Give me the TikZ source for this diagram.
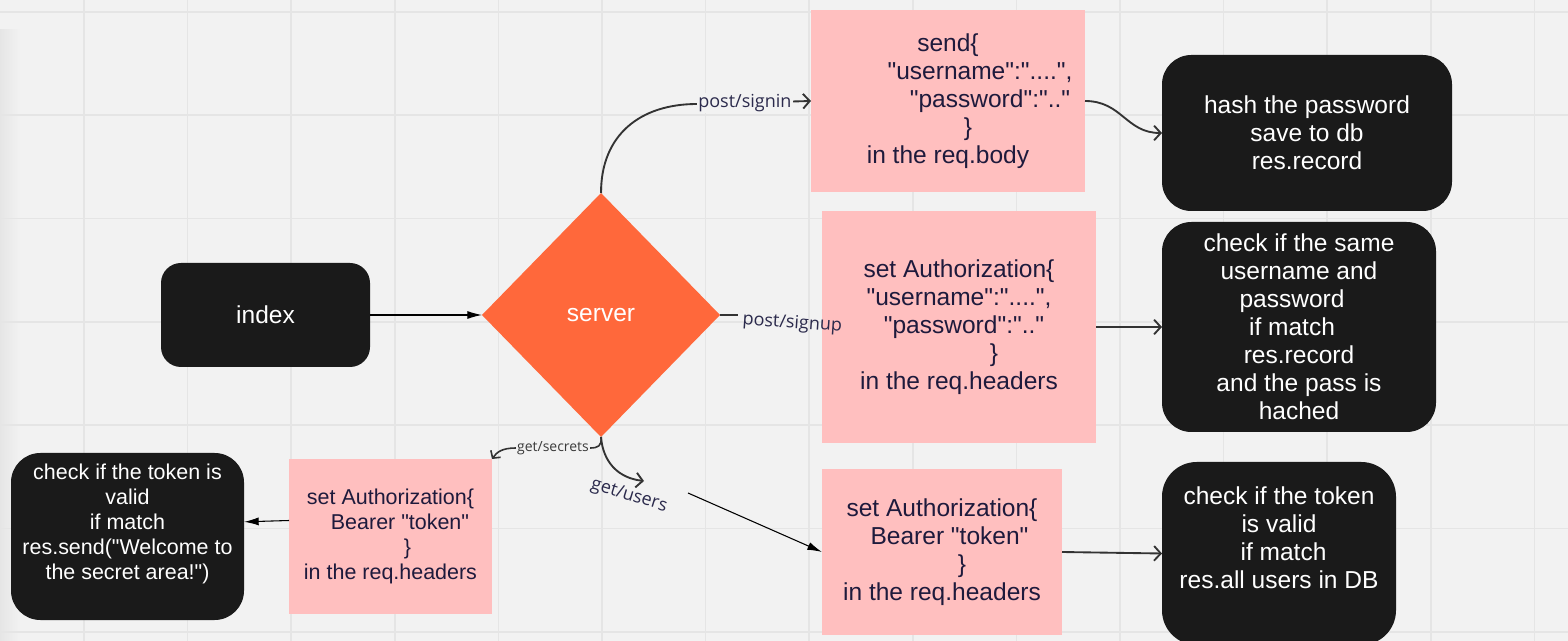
\documentclass[tikz,border=0pt]{standalone}
\usepackage{fontspec}
\setmainfont{Liberation Sans}
\newfontfamily\labfont{Open Sans}
\usetikzlibrary{shapes.geometric,arrows.meta}
\newdimen\px \px=0.75pt
\newcommand\sh[1]{\rule{#1\px}{0pt}}
\newcommand\qq{\textquotedbl}
\definecolor{bgc}{HTML}{F2F2F2}
\definecolor{gridc}{HTML}{E5E5E5}
\definecolor{pinkc}{HTML}{FFBFBF}
\definecolor{darkc}{HTML}{1A1A1A}
\definecolor{orangec}{HTML}{FF683B}
\definecolor{navyc}{HTML}{1E1A3C}
\definecolor{labc}{HTML}{2B2A4C}
\definecolor{seclabc}{HTML}{3A3A3A}
\definecolor{linec}{HTML}{333333}
\begin{document}
\begin{tikzpicture}[x=0.75pt,y=-0.75pt,
  rect/.style n args={4}{minimum width={(#3-#1)*0.75pt}, minimum height={(#4-#2)*0.75pt}, at={({(#1+#3)/2},{(#2+#4)/2})}},
  bigfont/.style={font=\fontsize{18.4}{21}\selectfont},
  smallfont/.style={font=\fontsize{16.1}{18.75}\selectfont},
  pinkbox/.style={fill=pinkc, draw=none, inner sep=0pt, outer sep=0pt, align=center, text=navyc, bigfont},
  darkbox/.style={fill=darkc, draw=none, rounded corners=22pt, inner sep=0pt, outer sep=0pt, align=center, text=white, bigfont},
  curve/.style={draw=linec, line width=1.4pt, -{Straight Barb[length=5pt,width=11pt]}},
  plainline/.style={draw=linec, line width=1.4pt},
  thinarrow/.style={draw=black, line width=0.8pt, -{Latex[length=11pt,width=6pt]}},
  siglab/.style={font=\labfont\fontsize{13.5}{16}\selectfont, text=labc, fill=bgc, inner sep=1pt},
  seclab/.style={font=\labfont\fontsize{10.5}{12}\selectfont, text=seclabc, fill=bgc, inner sep=1pt}
]
\useasboundingbox (0,0) rectangle (1568,641);
\clip (0,0) rectangle (1568,641);
% canvas
\fill[bgc] (0,0) rectangle (1568,641);
\shade[left color=black!10, right color=bgc] (0,30) rectangle (20,641);
\foreach \i in {0,...,14} \draw[gridc, line width=1.3pt] ({84+103.6*\i},0) -- ({84+103.6*\i},641);
\foreach \j in {0,...,6} \draw[gridc, line width=1.3pt] (0,{12+103.3*\j}) -- (1568,{12+103.3*\j});

% nodes
\node[darkbox, rounded corners=15pt, rect={161}{263}{370}{367}] (idx) {index};
\node[diamond, fill=orangec, minimum width=178.5pt, minimum height=183pt, inner sep=0pt, outer sep=0pt, text=white, bigfont] (srv) at (601,315) {server};

\node[pinkbox, rect={811}{10}{1085}{192}] (p1) {send\{\\\sh{64}{\qq}username{\qq}:{\qq}....{\qq},\\\sh{84}{\qq}password{\qq}:{\qq}..{\qq}\\\sh{40}\}\\in the req.body};
\node[pinkbox, rect={822}{211}{1096}{443}] (p2) {set Authorization\{\\{\qq}username{\qq}:{\qq}....{\qq},\\\sh{10}{\qq}password{\qq}:{\qq}..{\qq}\\\sh{70}\}\\in the req.headers};
\node[pinkbox, rect={822}{469}{1062}{635}] (p4) {set Authorization\{\\\sh{15}Bearer {\qq}token{\qq}\\\sh{40}\}\\in the req.headers};
\node[pinkbox, smallfont, rect={289}{459}{492}{614}] (p3) {set Authorization\{\\\sh{19}Bearer {\qq}token{\qq}\\\sh{34}\}\\in the req.headers};

\node[darkbox, rect={1162}{55}{1452}{211}] (b1) {hash the password\\save to db\\res.record};
\node[darkbox, rect={1162}{222}{1436}{432}] (b2) {check if the same\\username and\\password\sh{14}\\if match\sh{14}\\res.record\\and the pass is\\hached};
\node[darkbox, smallfont, rect={11}{453}{244}{620}] (b3) {check if the token is\\valid\\if match\\res.send({\qq}Welcome to\\the secret area!{\qq})\\[4\px]\mbox{}};
\node[darkbox, rounded corners=26pt, rect={1162}{462}{1396}{645}] (b4) {check if the token\\is valid\\\sh{9}if match\\res.all users in DB\\[4\px]\mbox{}};

% connectors
\draw[thinarrow] (idx.east) -- (srv.west);
\draw[curve] (srv.north) .. controls (601,135) and (640,104) .. (697,104) -- node[siglab, pos=0.42] (lsi) {post/signin} (p1.west);
\coordinate (su) at (738,315);
\draw[plainline] (srv.east) -- (su);
\node[siglab, fill=none, rotate=-4, anchor=west] (lsu) at (741,320) {post/signup};
\draw[curve, line width=1.2pt, -{Straight Barb[length=4pt,width=9pt]}] (srv.south) .. controls (602,446) and (598,448) .. (590,448) -- node[seclab] (lse) {get/secrets} (516,448) .. controls (502,448) and (497,452) .. (p3.north east);
\coordinate (gu) at (644,481);
\draw[curve] (srv.south) .. controls (603,462) and (618,478) .. (gu);
\node[siglab, fill=none, rotate=-17] (lgu) at (629,496) {get/users};
\coordinate (gl) at (688,493);
\draw[thinarrow] (gl) -- (p4.west);
\draw[curve] (p1.east) .. controls (1122,101) and (1126,133) .. (b1.west);
\draw[curve] (p2.east) -- (b2.west);
\draw[curve] (p4.east) -- (b4.west);
\draw[thinarrow] ([yshift=12pt]p3.west) -- ([yshift=11pt]b3.east);
\end{tikzpicture}
\end{document}
